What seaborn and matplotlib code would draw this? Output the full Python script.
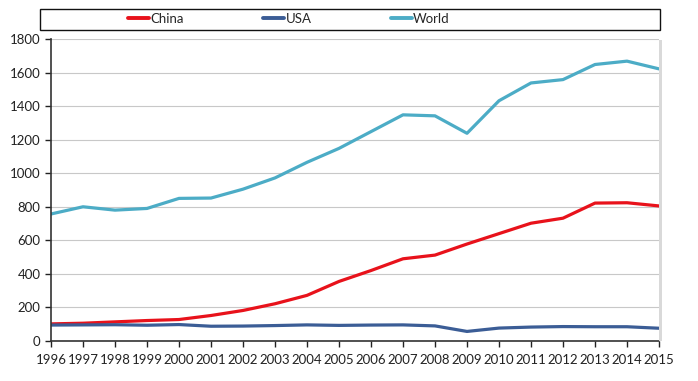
import matplotlib
matplotlib.use("Agg")
import matplotlib.pyplot as plt
from matplotlib.patches import Rectangle
import pandas as pd
import seaborn as sns

years = list(range(1996, 2016))
china = [102, 106, 114, 122, 128, 152, 182, 222, 272, 355,
         420, 490, 512, 578, 640, 702, 732, 822, 824, 805]
usa = [95, 96, 97, 94, 98, 88, 89, 92, 96, 93,
       95, 96, 90, 57, 77, 83, 86, 85, 85, 76]
world = [757, 800, 780, 790, 850, 852, 905, 972, 1065, 1148,
         1248, 1348, 1342, 1238, 1432, 1538, 1558, 1648, 1668, 1622]

series = ["China", "USA", "World"]
colors = {"China": "#e8121b", "USA": "#3b5d96", "World": "#4cacc6"}

df = pd.DataFrame({
    "year": years * 3,
    "value": china + usa + world,
    "series": ["China"] * len(years) + ["USA"] * len(years) + ["World"] * len(years),
})

sns.set_style("white")
plt.rcParams["font.family"] = ["Lato", "DejaVu Sans"]

fig = plt.figure(figsize=(6.98, 3.81), dpi=100)
ax = fig.add_axes([51 / 698, 40 / 381, (659 - 51) / 698, (341 - 39) / 381])

sns.lineplot(data=df, x="year", y="value", hue="series", hue_order=series,
             palette=colors, linewidth=2.3, ax=ax, legend=False)

ax.set_xlim(1996, 2015)
ax.set_ylim(0, 1800)
ax.set_xticks(years)
ax.set_yticks(range(0, 1801, 200))
ax.set_xlabel("")
ax.set_ylabel("")
ax.tick_params(axis="both", labelsize=9.5, length=4, width=1, direction="out",
               colors="#222222", bottom=True, left=True)
ax.tick_params(axis="x", pad=5)
ax.grid(axis="y", color="#c8c8c8", linewidth=0.8)
ax.set_axisbelow(True)
for side in ["top", "right"]:
    ax.spines[side].set_visible(False)
for side in ["left", "bottom"]:
    ax.spines[side].set_color("#333333")
    ax.spines[side].set_linewidth(1.2)

# faint shadow along the right edge of the plot area
fig.add_artist(Rectangle((659 / 698, 40 / 381), 3 / 698, (341 - 40) / 381,
                         transform=fig.transFigure, color="#d9d9d9", lw=0))

handles = [plt.Line2D([], [], color=colors[s], lw=2.8) for s in series]
fig.legend(handles, series, loc="center left", bbox_to_anchor=(116 / 698, 1 - 19 / 381),
           ncol=3, frameon=False, fontsize=9.5, handlelength=1.6, handletextpad=0.1,
           columnspacing=6.0)
fig.add_artist(Rectangle((40 / 698, 1 - 30 / 381), 620 / 698, 21 / 381,
                         transform=fig.transFigure, fill=False, ec="#111111", lw=1))

fig.savefig("out.png", dpi=100)
